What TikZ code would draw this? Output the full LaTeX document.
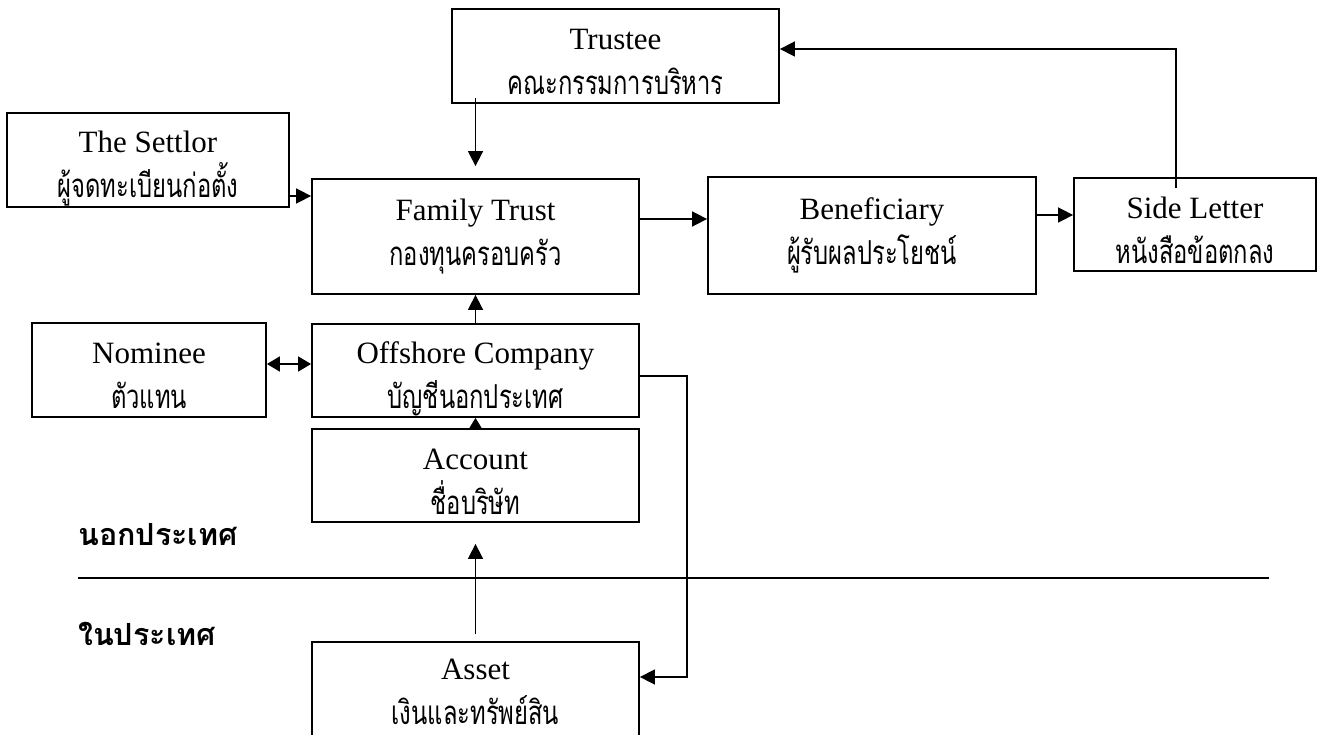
\documentclass[tikz,border=0pt]{standalone}
\usepackage{fontspec}
\setmainfont{Liberation Serif}
\newfontfamily\thaifont[Script=Thai,FakeStretch=0.72]{Loma}
\newfontfamily\thaiboldfont[Script=Thai]{Loma}
\usetikzlibrary{arrows.meta,calc}
\newcommand{\entxt}{\fontsize{31}{45}\selectfont}
\newcommand{\thtxt}{\thaifont\fontsize{33}{45}\selectfont}
\newcommand{\lowa}{\rule{0pt}{33pt}}
\newcommand{\lowb}{\rule{0pt}{39pt}}
\tikzset{
  box/.style={draw, line width=1.8pt, inner sep=0pt, align=center, font=\entxt},
  conn/.style={line width=1.6pt, -{Triangle[length=15pt,width=15pt]}},
  shortconn/.style={line width=1.6pt, -{Triangle[length=11pt,width=13pt]}},
  dconn/.style={line width=1.6pt, {Triangle[length=13pt,width=15pt]}-{Triangle[length=13pt,width=15pt]}},
  plain/.style={line width=1.6pt},
  region/.style={anchor=west, inner sep=0pt, font=\thaiboldfont\bfseries\fontsize{30.5}{34}\selectfont}
}
\begin{document}
\begin{tikzpicture}[x=1pt,y=-1pt]
\path[use as bounding box] (0,0) rectangle (1324,735);
\clip (0,0) rectangle (1324,735);
\fill[white] (0,0) rectangle (1324,735);

\node[box, minimum width=327pt, minimum height=94pt] (trustee) at (615.5,56) {\lowa Trustee\\{\thtxt คณะกรรมการบริหาร}};
\node[box, minimum width=282pt, minimum height=94pt] (settlor) at (148,160) {\lowb The Settlor\\{\thtxt ผู้จดทะเบียนก่อตั้ง}};
\node[box, minimum width=327pt, minimum height=115pt] (ft) at (475.5,236.5) {Family Trust\\{\thtxt กองทุนครอบครัว}};
\node[box, minimum width=328pt, minimum height=117pt] (bene) at (872,235.5) {Beneficiary\\{\thtxt ผู้รับผลประโยชน์}};
\node[box, minimum width=242pt, minimum height=93pt] (side) at (1195,224.5) {\lowa Side Letter\\{\thtxt หนังสือข้อตกลง}};
\node[box, minimum width=234pt, minimum height=94pt] (nominee) at (149,370) {\lowa Nominee\\{\thtxt ตัวแทน}};
\node[box, minimum width=327pt, minimum height=93pt] (offshore) at (475.5,370.5) {\lowb Offshore Company\\{\thtxt บัญชีนอกประเทศ}};
\node[box, minimum width=327pt, minimum height=93pt] (account) at (475.5,475.5) {\lowa Account\\{\thtxt ชื่อบริษัท}};
\node[box, minimum width=327pt, minimum height=100pt] (asset) at (475.5,692) {Asset\\{\thtxt เงินและทรัพย์สิน}};

\node[region] (outside) at (78,535) {นอกประเทศ};
\node[region] (inside) at (78,634) {ในประเทศ};

\coordinate (lineL) at (78,578);
\coordinate (lineR) at (1269,578);
\draw[plain] (lineL) -- (lineR);

% connectors
\draw[conn] ($(trustee.south -| ft.north)+(0,-6)$) -- ($(ft.north)+(0,-12)$);
\draw[conn] ($(settlor.east)+(0,36)$) coordinate (s1) -- (s1 -| ft.west);
\draw[conn] ($(ft.east)+(0,-17.5)$) coordinate (f1) -- (f1 -| bene.west);
\draw[conn] ($(bene.east)+(0,-20.5)$) coordinate (b1) -- (b1 -| side.west);
\draw[conn] ($(side.north)+(-19,11)$) |- ($(trustee.east)+(0,-7)$);
\draw[conn] (offshore.north) -- (ft.south);
\draw[dconn] ($(nominee.east)+(0,-6)$) coordinate (n1) -- (n1 -| offshore.west);
\draw[shortconn] (account.north) -- (offshore.south);
\draw[conn] ($(asset.north)+(0,-7)$) -- ($(account.south)+(0,21)$);
\draw[conn] ($(offshore.east)+(0,5.5)$) -- ++(47,0) |- ($(asset.east)+(0,-15)$);
\end{tikzpicture}
\end{document}
